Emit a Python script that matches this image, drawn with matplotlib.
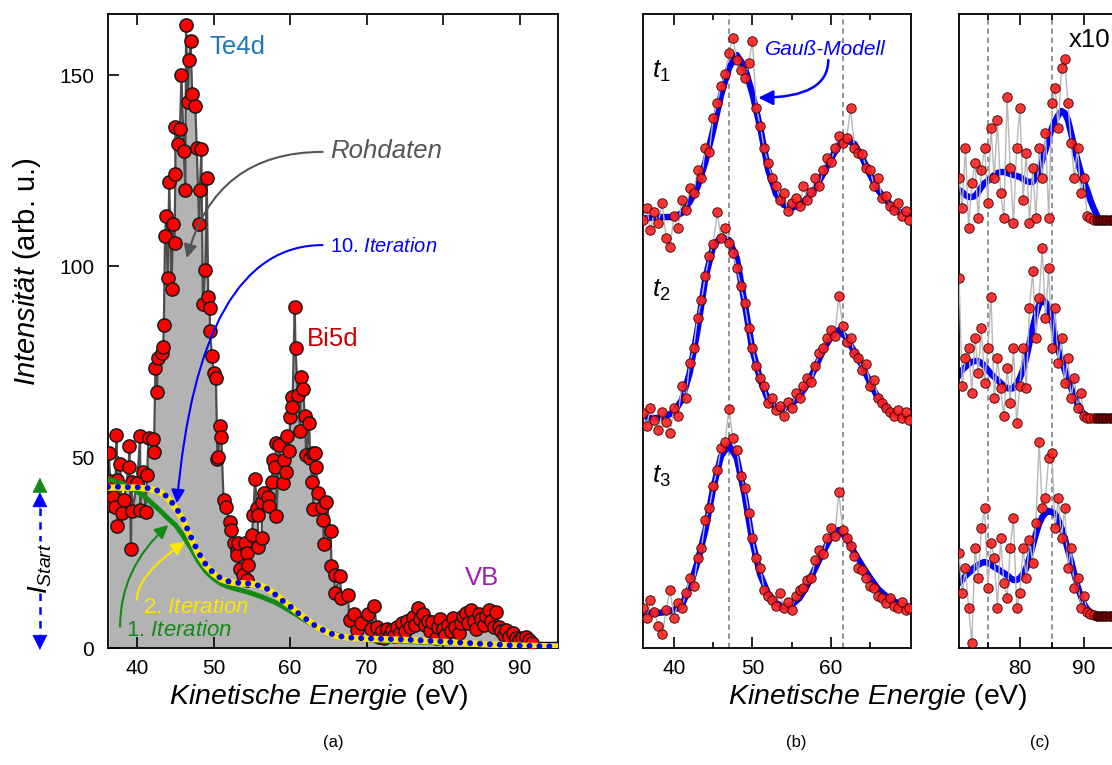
import numpy as np
import matplotlib.pyplot as plt

plt.rcParams['font.family'] = ['Liberation Sans', 'DejaVu Sans']
plt.rcParams['mathtext.fontset'] = 'custom'
plt.rcParams['mathtext.rm'] = 'Liberation Sans'
plt.rcParams['mathtext.it'] = 'Liberation Sans:italic'
plt.rcParams['mathtext.bf'] = 'Liberation Sans:bold'

# ---------------- (a) Rohdaten und Untergrund ----------------
raw_E = [36.3, 36.5, 36.5, 36.9, 37.1, 37.3, 37.4, 37.4, 37.8, 38.0,
         38.3, 38.9, 39.0, 39.2, 39.3, 39.4, 40.0, 40.4, 40.4, 40.8,
         41.1, 41.3, 41.5, 42.1, 42.2, 42.4, 42.6, 42.7, 43.2, 43.4,
         43.5, 43.65, 43.8, 44.0, 44.2, 44.5, 44.7, 44.9, 45.0, 45.0,
         45.4, 45.6, 45.8, 46.1, 46.3, 46.4, 46.6, 46.8, 47.0, 47.2,
         47.6, 47.8, 48.1, 48.2, 48.4, 48.6, 48.9, 49.1, 49.3, 49.5,
         49.5, 49.8, 50.0, 50.3, 50.5, 50.6, 50.8, 51.0, 51.3, 51.6,
         52.1, 52.3, 52.6, 53.0, 53.0, 53.2, 53.4, 53.8, 54.1, 54.3,
         54.3, 54.5, 55.0, 55.2, 55.4, 55.7, 55.8, 55.8, 56.3, 56.3,
         56.6, 57.1, 57.2, 57.6, 57.8, 58.0, 58.2, 58.2, 58.6, 59.1,
         59.2, 59.4, 59.6, 59.9, 60.0, 60.2, 60.3, 60.6, 60.7, 61.0,
         61.3, 61.4, 61.7, 61.9, 62.1, 62.5, 62.6, 62.9, 63.0, 63.0,
         63.2, 63.4, 63.6, 64.1, 64.3, 64.4, 64.7, 65.3, 65.4, 65.8,
         65.8, 66.5, 66.7, 67.5, 67.8, 68.4, 68.8, 69.3, 70.2, 70.6,
         71.0, 71.3, 71.6, 72.0, 72.3, 72.6, 73.0, 73.3, 73.6, 74.0,
         74.3, 74.6, 75.0, 75.3, 75.6, 76.0, 76.3, 76.7, 77.0, 77.3,
         77.6, 78.0, 78.3, 78.6, 79.0, 79.3, 79.6, 80.0, 80.3, 80.6,
         81.0, 81.3, 81.6, 82.0, 82.3, 82.6, 83.0, 83.3, 83.6, 84.0,
         84.3, 84.7, 85.0, 85.3, 85.6, 86.0, 86.3, 86.6, 86.9, 87.3,
         87.6, 88.0, 88.2, 88.6, 89.1, 89.5, 89.9, 90.3, 90.8, 91.2,
         91.6]
raw_I = [51.0, 43.8, 37.4, 39.6, 37.0, 55.8, 44.0, 32.0, 48.2, 35.4,
         38.7, 47.5, 53.0, 26.0, 43.5, 36.0, 43.1, 55.5, 36.1, 46.0,
         35.6, 45.3, 54.9, 54.6, 51.4, 73.3, 67.0, 76.0, 77.2, 78.8,
         84.6, 108.0, 113.0, 97.0, 122.0, 94.0, 111.0, 106.0, 124.0, 136.5,
         132.0, 135.9, 150.0, 130.0, 120.0, 163.0, 143.0, 154.0, 159.0, 145.0,
         142.0, 131.0, 111.0, 120.0, 130.6, 90.0, 99.0, 123.0, 92.0, 89.0,
         83.0, 76.4, 72.0, 70.7, 49.5, 50.0, 58.0, 55.3, 38.7, 36.9,
         33.0, 30.9, 27.5, 25.7, 24.3, 27.4, 20.6, 19.1, 27.4, 24.8,
         17.8, 21.7, 29.6, 34.8, 44.2, 36.7, 34.8, 26.5, 28.7, 38.3,
         40.6, 39.6, 37.2, 43.5, 49.2, 47.5, 53.8, 34.6, 53.1, 43.1,
         49.2, 46.2, 55.6, 51.7, 60.6, 65.8, 63.0, 89.2, 78.6, 66.2,
         56.7, 71.0, 67.7, 60.7, 50.5, 58.8, 49.7, 43.5, 51.0, 36.4,
         51.0, 47.5, 40.5, 37.0, 33.6, 27.3, 38.3, 30.7, 21.5, 19.1,
         14.3, 18.8, 13.0, 13.9, 7.3, 9.0, 4.7, 6.5, 9.0, 4.9,
         11.0, 5.5, 3.0, 4.5, 2.5, 5.0, 3.5, 4.8, 3.2, 5.5,
         4.0, 6.5, 4.5, 7.0, 5.5, 8.0, 6.0, 10.4, 7.5, 9.0,
         6.0, 7.2, 4.5, 6.9, 2.5, 5.5, 7.5, 5.0, 3.5, 6.0,
         4.5, 7.8, 5.5, 4.0, 6.5, 8.5, 9.2, 6.5, 9.9, 7.0,
         5.0, 9.0, 7.5, 6.0, 8.5, 9.9, 7.0, 5.5, 9.5, 5.5,
         4.5, 3.5, 4.7, 3.0, 3.8, 2.5, 2.0, 2.6, 3.0, 2.0,
         1.3]
tail_E = [91.6, 92.5, 93.5, 94.5, 95.0]
tail_I = [1.2, 1.0, 1.0, 1.0, 1.0]

iter_E = [36.2, 37, 38, 39, 40, 41, 42, 43, 44, 45,
          46, 47, 48, 49, 50, 51, 52, 53, 54, 55,
          56, 57, 58, 59, 60, 61, 62, 63, 64, 65,
          66, 67, 68, 70, 72, 75, 80, 85, 90, 95]
iter1 = [44.2, 43.8, 43.0, 42.2, 41.0, 39.6, 37.8, 36.0, 34.0, 32.2,
         29.5, 26.3, 22.8, 20.0, 18.2, 16.8, 16.0, 15.4, 14.9, 14.3,
         13.6, 12.8, 12.0, 10.9, 9.7, 8.5, 7.2, 6.0, 4.9, 4.1,
         3.5, 3.0, 2.6, 2.2, 2.0, 1.7, 1.3, 1.0, 0.7, 0.5]
iter2 = [42.0, 42.0, 42.0, 42.0, 42.0, 41.8, 41.5, 40.9, 39.3, 36.8,
         33.5, 28.8, 24.6, 21.5, 19.4, 18.0, 17.3, 17.0, 16.9, 16.8,
         16.4, 15.6, 14.2, 12.5, 11.0, 9.3, 7.8, 6.2, 5.0, 4.0,
         3.2, 2.9, 2.6, 2.4, 2.3, 2.1, 1.6, 1.0, 0.6, 0.4]
iter10 = [42.2, 42.2, 42.2, 42.1, 42.1, 42.0, 41.6, 41.0, 39.5, 37.0,
          33.8, 29.2, 25.0, 21.8, 19.6, 18.2, 17.4, 17.1, 17.0, 16.8,
          16.3, 15.5, 14.1, 12.4, 10.9, 9.2, 7.7, 6.2, 5.0, 4.0,
          3.3, 2.9, 2.7, 2.5, 2.4, 2.2, 1.7, 1.1, 0.6, 0.4]

# ---------------- (b) Te4d / Bi5d zu t1, t2, t3 ----------------
E_b = [36.0, 36.5, 37.0, 37.5, 38.0, 38.5, 39.0, 39.5, 40.0, 40.5,
       41.0, 41.5, 42.0, 42.5, 43.0, 43.5, 44.0, 44.5, 45.0, 45.5,
       46.0, 46.5, 47.0, 47.5, 48.0, 48.5, 49.0, 49.5, 50.0, 50.5,
       51.0, 51.5, 52.0, 52.5, 53.0, 53.5, 54.0, 54.5, 55.0, 55.5,
       56.0, 56.5, 57.0, 57.5, 58.0, 58.5, 59.0, 59.5, 60.0, 60.5,
       61.0, 61.5, 62.0, 62.5, 63.0, 63.5, 64.0, 64.5, 65.0, 65.5,
       66.0, 66.5, 67.0, 67.5, 68.0, 68.5, 69.0, 69.5, 70.0]
t1_pts = [428, 440, 418, 436, 425, 445, 410, 401, 432, 420,
          448, 438, 460, 455, 478, 470, 500, 496, 530, 545,
          562, 574, 595, 610, 588, 578, 570, 585, 607, 540,
          522, 500, 485, 470, 462, 448, 455, 437, 445, 450,
          442, 462, 448, 456, 470, 462, 478, 490, 486, 500,
          512, 505, 510, 540, 500, 495, 494, 480, 478, 462,
          470, 450, 452, 442, 438, 445, 432, 437, 428]
t2_pts = [235, 222, 240, 228, 218, 236, 226, 215, 240, 232,
          262, 250, 285, 300, 330, 348, 372, 392, 404, 436,
          410, 420, 405, 395, 380, 362, 345, 320, 300, 282,
          270, 262, 245, 250, 238, 242, 232, 246, 240, 255,
          250, 262, 270, 266, 282, 295, 300, 310, 318, 312,
          352, 322, 306, 310, 295, 290, 278, 284, 262, 268,
          250, 245, 240, 236, 232, 238, 230, 236, 228]
t3_pts = [40, 30, 48, 36, 22, 14, 38, 58, 30, 45,
          40, 55, 70, 62, 90, 100, 128, 140, 162, 178,
          200, 206, 239, 210, 198, 172, 160, 135, 110, 90,
          80, 58, 52, 48, 42, 55, 40, 46, 38, 52,
          58, 60, 68, 70, 88, 98, 94, 110, 120, 112,
          156, 118, 110, 102, 92, 80, 78, 70, 62, 60,
          52, 50, 45, 50, 42, 40, 46, 38, 40]

Em_b = [36, 37, 38, 39, 40, 41, 42, 43, 44, 45, 46, 47,
        48, 49, 50, 51, 52, 53, 54, 55, 56, 57, 58, 59,
        60, 61, 62, 63, 64, 65, 66, 67, 68, 69, 70]
t1_fit = [430, 430, 431, 431, 431, 435, 446, 461, 486, 518, 553, 580,
          593, 581, 554, 520, 478, 454, 443, 440, 443, 450, 460, 474,
          489, 503, 508, 504, 490, 473, 458, 448, 440, 435, 433]
t2_fit = [231, 230, 230, 232, 236, 248, 275, 318, 370, 402, 411, 408,
          390, 345, 298, 268, 248, 240, 239, 244, 252, 264, 280, 298,
          311, 318, 310, 296, 282, 265, 250, 240, 235, 232, 231]
t3_fit = [35, 35, 35, 36, 38, 43, 61, 86, 118, 160, 192, 203,
          190, 153, 106, 73, 54, 45, 41, 43, 50, 63, 80, 96,
          111, 118, 110, 95, 82, 70, 59, 52, 47, 43, 41]

# ---------------- (c) VB, x10 ----------------
E_c = [70.5, 71.0, 71.5, 72.0, 72.5, 73.0, 73.5, 74.0, 74.5, 75.0,
       75.5, 76.0, 76.5, 77.0, 77.5, 78.0, 78.5, 79.0, 79.5, 80.0,
       80.5, 81.0, 81.5, 82.0, 82.5, 83.0, 83.5, 84.0, 84.5, 85.0,
       85.5, 86.0, 86.5, 87.0, 87.5, 88.0, 88.5, 89.0, 89.5, 90.0,
       90.5, 91.0, 91.5]
c1_pts = [470, 440, 500, 420, 465, 485, 430, 478, 500, 445,
          520, 470, 528, 455, 430, 551, 480, 425, 500, 540,
          448, 495, 425, 480, 430, 500, 470, 515, 430, 545,
          560, 520, 580, 589, 545, 505, 470, 500, 455, 470,
          432, 430, 428]
c2_pts = [370, 262, 290, 300, 255, 310, 275, 320, 265, 300,
          351, 250, 290, 260, 232, 280, 245, 300, 225, 262,
          300, 260, 340, 377, 310, 350, 400, 330, 380, 300,
          340, 285, 310, 265, 290, 250, 270, 240, 255, 232,
          230, 230, 230]
c3_pts = [95, 55, 80, 40, 5, 100, 70, 120, 140, 60,
          105, 90, 40, 110, 65, 50, 100, 130, 40, 55,
          100, 70, 108, 85, 125, 206, 140, 150, 190, 195,
          120, 150, 110, 140, 80, 100, 60, 70, 40, 52,
          36, 34, 33]

Em_c = [70.5, 71.0, 71.5, 72.0, 72.5, 73.0, 73.5, 74.0, 74.5, 75.0,
        75.5, 76.0, 76.5, 77.0, 77.5, 78.0, 78.5, 79.0, 79.5, 80.0,
        80.5, 81.0, 81.5, 82.0, 82.5, 83.0, 83.5, 84.0, 84.5, 85.0,
        85.5, 86.0, 86.5, 87.0, 87.5, 88.0, 88.5, 89.0, 89.5, 90.0,
        90.5, 91.0, 91.5, 92.0]
c1_fit = [458, 456, 453, 451, 451, 452, 456, 461, 465, 467,
          470, 473, 475, 476, 476, 475, 474, 473, 472, 471,
          469, 467, 466, 466, 470, 478, 488, 498, 510, 520,
          527, 533, 537, 535, 528, 515, 500, 488, 476, 466,
          458, 448, 440, 433]
c2_fit = [273, 278, 281, 284, 286, 287, 287, 285, 282, 278,
          274, 271, 268, 265, 262, 260, 259, 260, 264, 270,
          278, 290, 305, 320, 333, 343, 348, 346, 340, 328,
          312, 298, 288, 278, 268, 260, 252, 244, 238, 234,
          231, 230, 230, 230]
c3_fit = [65, 68, 72, 75, 78, 81, 83, 85, 86, 85,
          83, 81, 79, 77, 75, 73, 70, 68, 68, 70,
          74, 80, 90, 102, 114, 124, 131, 135, 137, 136,
          134, 128, 120, 110, 98, 87, 74, 62, 52, 44,
          39, 36, 34, 32]

E_tail_c = [92.0, 92.5, 93.0, 93.5, 94.0, 94.5, 95.0, 95.5, 96.0,
            96.5, 97.0, 97.5, 98.0, 98.5, 99.0, 99.5, 100.0]
c_tail_levels = [428, 230, 32]

# Farben
GREEN = '#138a13'
YELLOW = '#ffe600'
BLUE = '#0000ff'

fig = plt.figure(figsize=(11.12, 7.65), dpi=100)

# ================= (a) =================
ax = fig.add_axes([108/1112, 117/765, 450/1112, 634/765])
ax.fill_between(raw_E + tail_E, raw_I + tail_I, 0, color='#b3b3b3', lw=0, zorder=1)
ax.plot(raw_E, raw_I, color='#4d4d4d', lw=1.6, zorder=2)
ax.plot(tail_E, tail_I, color='black', lw=3.5, zorder=2)
ax.plot(raw_E, raw_I, 'o', ms=9.5, mfc='#ff0000', mec='#1a1a1a', mew=1.1, zorder=3)
ax.plot(iter_E, iter1, color=GREEN, lw=3.6, zorder=4, solid_capstyle='butt')
ax.plot(iter_E, iter2, color=YELLOW, lw=4.6, zorder=4, solid_capstyle='butt')
ax.plot(iter_E, iter10, color=BLUE, lw=4.3, ls=(0, (0.01, 1.65)),
        dash_capstyle='round', zorder=5)

ax.set_xlim(36.2, 95)
ax.set_ylim(0, 166)
ax.set_xticks([40, 50, 60, 70, 80, 90])
ax.set_yticks([0, 50, 100, 150])
ax.tick_params(direction='in', length=8, width=1.2, labelsize=15, top=True, right=False)
ax.tick_params(axis='x', pad=8)
ax.tick_params(axis='y', pad=10)
for s in ax.spines.values():
    s.set_linewidth(1.3)

ax.text(49.4, 155.5, 'Te4d', color='#1f78b8', fontsize=18.5, va='baseline')
ax.text(62.2, 79.1, 'Bi5d', color='#c80000', fontsize=18.5, va='baseline')
ax.text(82.8, 16.5, 'VB', color='#9a1fb0', fontsize=18.5, va='baseline')
ax.text(65.2, 128.2, 'Rohdaten', color='#555555', fontsize=18.5, style='italic', va='baseline')
ax.text(65.2, 103.7, r'10. $\mathit{Iteration}$', color=BLUE, fontsize=14.5, va='baseline')
ax.text(40.8, 9.2, r'2. $\mathit{Iteration}$', color=YELLOW, fontsize=16, va='baseline', zorder=6)
ax.text(38.6, 3.1, r'1. $\mathit{Iteration}$', color=GREEN, fontsize=16, va='baseline', zorder=6)


def curved_arrow(a, start, tip, color, angA, angB, lw=1.5, ms=20):
    a.annotate('', xy=tip, xytext=start, annotation_clip=False, zorder=6,
               arrowprops=dict(arrowstyle='-|>', color=color, lw=lw, mutation_scale=ms,
                               shrinkA=0, shrinkB=0,
                               connectionstyle=f'angle3,angleA={angA},angleB={angB}'))


curved_arrow(ax, (64.25, 129.9), (46.5, 102.1), '#555555', 0, 75)
curved_arrow(ax, (64.25, 105.5), (45.2, 37.9), BLUE, 0, 85)
curved_arrow(ax, (39.96, 12.6), (46.26, 27.8), YELLOW, 90, 35)
curved_arrow(ax, (37.78, 5.6), (44.08, 32.2), GREEN, 90, 42)

# I_Start Pfeile links neben der Achse
xI = 27.3
ax.annotate('', xy=(xI, 44.6), xytext=(xI, 40.9), annotation_clip=False,
            arrowprops=dict(arrowstyle='-|>', color=GREEN, lw=0.5, mutation_scale=25,
                            shrinkA=0, shrinkB=0))
ax.annotate('', xy=(xI, 40.8), xytext=(xI, 36.6), annotation_clip=False,
            arrowprops=dict(arrowstyle='-|>', color=BLUE, lw=0.5, mutation_scale=25,
                            shrinkA=0, shrinkB=0))
ax.plot([xI, xI], [36.6, 28.0], color=BLUE, lw=1.8, ls=(0, (3, 2.5)), clip_on=False)
ax.plot([xI, xI], [14.4, 3.0], color=BLUE, lw=1.8, ls=(0, (3, 2.5)), clip_on=False)
ax.annotate('', xy=(xI, -0.5), xytext=(xI, 3.0), annotation_clip=False,
            arrowprops=dict(arrowstyle='-|>', color=BLUE, lw=0.5, mutation_scale=25,
                            shrinkA=0, shrinkB=0))
ax.text(27.4, 20.9, r'$\mathit{I}_{\mathit{Start}}$', rotation=90, fontsize=20,
        ha='center', va='center', clip_on=False)

fig.text(27/1112, 1 - 272/765, r'$\mathit{Intensität}$ (arb. u.)', rotation=90,
         ha='center', va='center', fontsize=21)
fig.text(319/1112, 1 - 697/765, r'$\mathit{Kinetische\ Energie}$ (eV)',
         ha='center', va='center', fontsize=20.5)

# ================= (b) und (c) =================
ax_b = fig.add_axes([643/1112, 117/765, 268/1112, 634/765])
ax_c = fig.add_axes([959/1112, 117/765, 189/1112, 634/765])

for a, E, pts_list, Em, fit_list in (
        (ax_b, E_b, (t1_pts, t2_pts, t3_pts), Em_b, (t1_fit, t2_fit, t3_fit)),
        (ax_c, E_c, (c1_pts, c2_pts, c3_pts), Em_c, (c1_fit, c2_fit, c3_fit))):
    for pts, fit in zip(pts_list, fit_list):
        a.plot(Em, fit, color=BLUE, lw=4.6, zorder=2)
        a.plot(E, pts, color='#b8b8b8', lw=1.0, zorder=3)
        a.plot(E, pts, 'o', ms=6.8, mfc='#ff2020', mec='#3a0000', mew=0.7,
               alpha=0.9, zorder=4)
    a.set_ylim(0, 634)
    a.set_yticks([])
    a.tick_params(axis='x', which='both', direction='in', top=True, bottom=True,
                  labelsize=15, pad=8, width=1.2)
    a.tick_params(axis='x', which='major', length=8)
    a.tick_params(axis='x', which='minor', length=4)
    for s in a.spines.values():
        s.set_linewidth(1.3)

for lvl in c_tail_levels:
    ax_c.plot(E_tail_c, [lvl] * len(E_tail_c), 'o', ms=6.8, mfc='#7a0000', mec='#200000',
              mew=0.7, zorder=4, clip_on=True)

ax_b.set_xlim(36.05, 70.2)
ax_b.set_xticks([40, 50, 60])
ax_b.set_xticks([45, 55, 65], minor=True)
for xv in (47.0, 61.5):
    ax_b.axvline(xv, color='#777777', lw=1.1, ls=(0, (3.5, 2.5)), zorder=1)

ax_c.set_xlim(70.5, 100)
ax_c.set_xticks([80, 90])
ax_c.set_xticks([75, 85, 95], minor=True)
for xv in (75.0, 85.0):
    ax_c.axvline(xv, color='#777777', lw=1.1, ls=(0, (3.5, 2.5)), zorder=1)

ax_b.text(37.16, 570, r'$\mathit{t}_{\mathit{1}}$', fontsize=19, va='baseline')
ax_b.text(37.16, 351, r'$\mathit{t}_{\mathit{2}}$', fontsize=19, va='baseline')
ax_b.text(37.16, 165, r'$\mathit{t}_{\mathit{3}}$', fontsize=19, va='baseline')
ax_b.text(51.6, 593, r'Gauß-Modell', color=BLUE, fontsize=15, style='italic', va='baseline')
curved_arrow(ax_b, (59.66, 588), (50.74, 550.3), BLUE, 90, 0, lw=1.8, ms=22)

ax_c.text(87.7, 601, 'x10', fontsize=18.5, va='baseline')

fig.text(878/1112, 1 - 697/765, r'$\mathit{Kinetische\ Energie}$ (eV)',
         ha='center', va='center', fontsize=20.5)

fig.text(333/1112, 1 - 742/765, '(a)', ha='center', va='center', fontsize=12)
fig.text(796/1112, 1 - 742/765, '(b)', ha='center', va='center', fontsize=12)
fig.text(1040/1112, 1 - 742/765, '(c)', ha='center', va='center', fontsize=12)

fig.savefig('out.png', dpi=100)
